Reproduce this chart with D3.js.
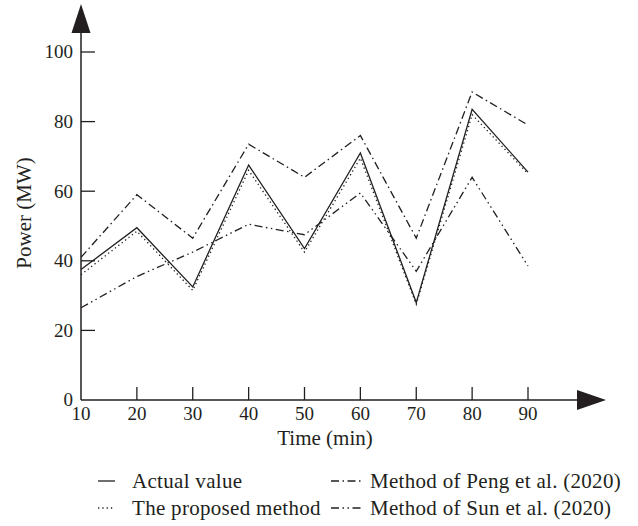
<!DOCTYPE html>
<html>
<head>
<meta charset="utf-8">
<script src="https://cdn.jsdelivr.net/npm/d3@7"></script>
<style>
    body { margin: 0; background: #fff; }
    svg { display: block; font-family: "Liberation Serif", "Times New Roman", serif; }
</style>
</head>
<body>
<svg id="chart" width="638" height="526"></svg>
<script>
"use strict";

// Data.
const times = [10, 20, 30, 40, 50, 60, 70, 80, 90];
const actualValue = [37.5, 49.5, 32.5, 67.5, 43.5, 71, 28, 83.5, 65.5];
const proposedMethod = [36, 48.5, 31.5, 66, 42.5, 69.5, 27.5, 82, 65];
const pengMethod = [41, 59, 46.5, 73.5, 64, 76, 46.5, 88.5, 79];
const sunMethod = [26.5, 35.5, 42.5, 50.5, 47.5, 59.5, 37, 64, 38.5];
const yTicks = [0, 20, 40, 60, 80, 100];
const seriesNames = ["Actual value", "The proposed method", "Method of Peng et al. (2020)", "Method of Sun et al. (2020)"];

const INK = "#231f20";
const LINE_WIDTH = 1.3;
const TICK_LENGTH = 14;
const TICK_FONT = "19px";
const LABEL_FONT = "21px";

const ORIGIN_X = 81;
const ORIGIN_Y = 400;

let svg = d3.select("#chart");

let x = d3.scaleLinear().domain([10, 90]).range([ORIGIN_X, 528]);
let y = d3.scaleLinear().domain([0, 100]).range([ORIGIN_Y, 52]);

// Dash styles for each series (solid, dotted, dash-dot, dash-dot-dot).
let styles = [
    null,
    "1.3,3",
    "8,3.5,1.5,3.5",
    "8,3.5,1.5,3.5,1.5,3.5"
];

let series = [actualValue, proposedMethod, pengMethod, sunMethod].map(function (values, i) {
    return {
        name: seriesNames[i],
        dash: styles[i],
        points: times.map(function (t, j) {
            return {t: t, v: values[j]};
        })
    };
});

/**
 * Draws the axes with arrow heads and inside ticks.
 */
function drawAxes() {
    let axes = svg.append("g").attr("class", "axes");

    axes.append("line")
        .attr("x1", ORIGIN_X).attr("x2", ORIGIN_X)
        .attr("y1", ORIGIN_Y).attr("y2", 30)
        .attr("stroke", INK).attr("stroke-width", 1.5);
    axes.append("line")
        .attr("x1", ORIGIN_X).attr("x2", 580)
        .attr("y1", ORIGIN_Y).attr("y2", ORIGIN_Y)
        .attr("stroke", INK).attr("stroke-width", 1.5);

    // Arrow heads.
    axes.append("path")
        .attr("d", "M" + ORIGIN_X + ",4L" + (ORIGIN_X + 9.5) + ",33L" + (ORIGIN_X - 9.5) + ",33Z")
        .attr("fill", INK);
    axes.append("path")
        .attr("d", "M606," + ORIGIN_Y + "L577," + (ORIGIN_Y - 10) + "L577," + (ORIGIN_Y + 10) + "Z")
        .attr("fill", INK);

    // Y ticks point into the plot.
    let yTick = axes.selectAll(".ytick")
        .data(yTicks)
        .enter().append("g")
        .attr("class", "ytick")
        .attr("transform", function (d) {
            return "translate(" + ORIGIN_X + "," + y(d) + ")";
        });
    yTick.filter(function (d) {
        return d !== 0;
    }).append("line")
        .attr("x2", TICK_LENGTH)
        .attr("stroke", INK).attr("stroke-width", 1.3);
    yTick.append("text")
        .attr("x", -8)
        .attr("dy", "0.34em")
        .style("text-anchor", "end")
        .style("font-size", TICK_FONT)
        .attr("fill", INK)
        .text(function (d) {
            return d;
        });

    let xTick = axes.selectAll(".xtick")
        .data(times)
        .enter().append("g")
        .attr("class", "xtick")
        .attr("transform", function (d) {
            return "translate(" + x(d) + "," + ORIGIN_Y + ")";
        });
    xTick.filter(function (d) {
        return d !== 10;
    }).append("line")
        .attr("y2", -TICK_LENGTH + 1)
        .attr("stroke", INK).attr("stroke-width", 1.3);
    xTick.append("text")
        .attr("y", 20)
        .style("text-anchor", "middle")
        .style("font-size", TICK_FONT)
        .attr("fill", INK)
        .text(function (d) {
            return d;
        });

    axes.append("text")
        .attr("x", 325)
        .attr("y", 445)
        .style("text-anchor", "middle")
        .style("font-size", LABEL_FONT)
        .attr("fill", INK)
        .text("Time (min)");
    axes.append("text")
        .attr("transform", "translate(31,213) rotate(-90)")
        .style("text-anchor", "middle")
        .style("font-size", LABEL_FONT)
        .attr("fill", INK)
        .text("Power (MW)");
}

/**
 * Draws all series lines.
 */
function drawLines() {
    let line = d3.line()
        .x(function (d) {
            return x(d.t);
        })
        .y(function (d) {
            return y(d.v);
        });

    svg.append("g").attr("class", "lines")
        .selectAll("path")
        .data(series)
        .enter().append("path")
        .attr("d", function (d) {
            return line(d.points);
        })
        .attr("fill", "none")
        .attr("stroke", INK)
        .attr("stroke-width", LINE_WIDTH)
        .attr("stroke-dasharray", function (d) {
            return d.dash;
        });
}

/**
 * Draws the two column legend below the chart.
 */
function drawLegend() {
    let cols = [{x1: 98, x2: 115, tx: 132}, {x1: 331, x2: 363, tx: 370}];
    let rows = [481, 508];
    let order = [0, 2, 1, 3];

    order.forEach(function (s, i) {
        let col = cols[i % 2];
        let row = rows[Math.floor(i / 2)];
        let item = svg.append("g").attr("class", "legendItem");
        item.append("line")
            .attr("x1", col.x1).attr("x2", col.x2)
            .attr("y1", row).attr("y2", row)
            .attr("stroke", INK)
            .attr("stroke-width", LINE_WIDTH)
            .attr("stroke-dasharray", series[s].dash);
        item.append("text")
            .attr("x", col.tx)
            .attr("y", row)
            .attr("dy", "0.32em")
            .style("font-size", LABEL_FONT)
            .style("letter-spacing", "0.3px")
            .attr("fill", INK)
            .text(series[s].name);
    });
}

drawLines();
drawAxes();
drawLegend();
</script>
</body>
</html>
